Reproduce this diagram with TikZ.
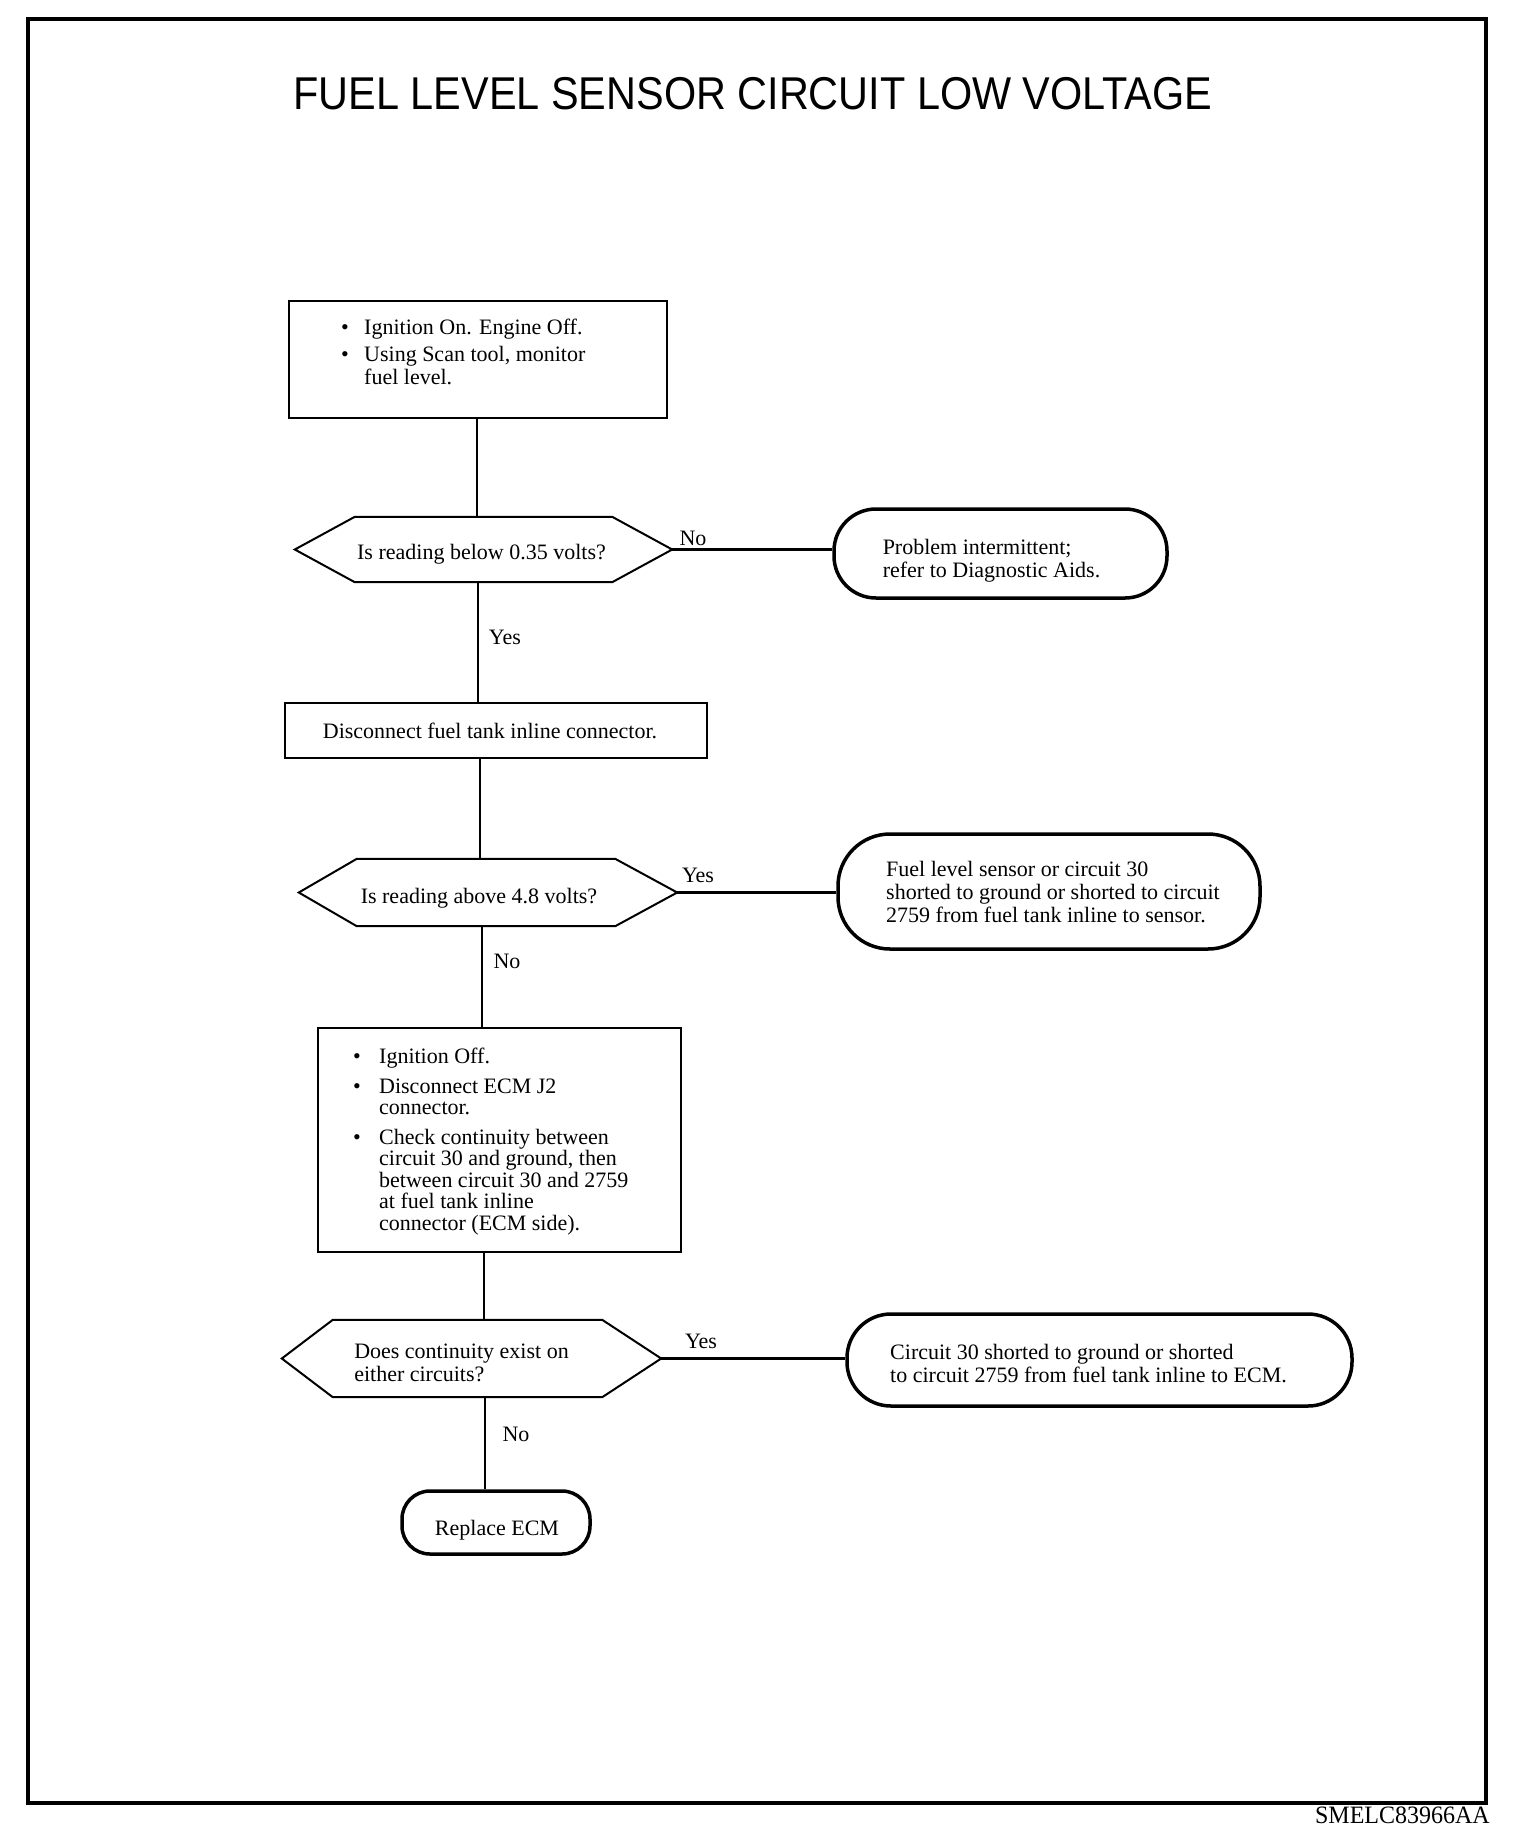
\documentclass[tikz,border=0pt]{standalone}
\usepackage{graphicx}
\usepackage{fontspec}
\setmainfont{Liberation Serif}
\newfontfamily\titlefont{Liberation Sans}
\newcommand\flowtxt{\fontsize{22}{23}\selectfont}
\newcommand\bulA{\makebox[23pt][l]{\textbullet}}
\newcommand\indA{\hspace*{23pt}}
\newcommand\bulB{\makebox[26pt][l]{\textbullet}}
\newcommand\indB{\hspace*{26pt}}
% hexagon outline round an invisible node: #1 name, #2 left depth, #3 right depth
\newcommand\hexout[3]{%
  \draw[hexline] (#1.north west) -- (#1.north east) -- ([xshift=#3pt]#1.east) --
    (#1.south east) -- (#1.south west) -- ([xshift=-#2pt]#1.west) -- cycle;
  \coordinate (#1r) at ([xshift=#3pt]#1.east);}
\begin{document}
\begin{tikzpicture}[x=1pt,y=-1pt,
  boxnode/.style={draw, line width=2pt, inner sep=0pt},
  hexnode/.style={inner sep=0pt},
  hexline/.style={line width=2pt, line join=miter},
  termnode/.style={draw, line width=3.5pt, inner sep=0pt},
  conn/.style={line width=2.2pt},
  lbl/.style={font=\flowtxt, inner sep=0pt, align=left}]
\useasboundingbox (0,0) rectangle (1536,1840);
\fill[white] (0,0) rectangle (1536,1840);
% frame
\draw[line width=4.5pt] (28,19) rectangle (1486,1803);
% title
\node[inner sep=0pt, font=\titlefont\fontsize{46}{50}\selectfont] (title) at (753,94)
  {\scalebox{0.9}[1]{FUEL LEVEL SENSOR CIRCUIT LOW VOLTAGE}};
% box 1
\node[boxnode, minimum width=378pt, minimum height=117pt] (b1) at (478,359.5) {};
\node[lbl, anchor=north west] (b1t) at (341,319)
  {\bulA Ignition On. Engine Off.\\[4pt]
   \bulA Using Scan tool, monitor\\
   \indA fuel level.};
% decision 1
\node[hexnode, minimum width=257pt, minimum height=65pt] (d1) at (483.5,549.5) {};
\hexout{d1}{60}{60}
\node[lbl] (d1t) at (481.5,554.5) {Is reading below 0.35 volts?};
\node[termnode, rounded corners=42pt, minimum width=333pt, minimum height=89pt] (t1) at (1000.5,553.5) {};
\node[lbl] (t1t) at (991.5,560.5) {Problem intermittent;\\refer to Diagnostic Aids.};
% box 2
\node[boxnode, minimum width=422pt, minimum height=55pt] (b2) at (496,730.5) {};
\node[lbl] (b2t) at (490,730.5) {Disconnect fuel tank inline connector.};
% decision 2
\node[hexnode, minimum width=258pt, minimum height=67pt] (d2) at (486,892.5) {};
\hexout{d2}{58}{62}
\node[lbl] (d2t) at (479,898.5) {Is reading above 4.8 volts?};
\node[termnode, rounded corners=52pt, minimum width=422pt, minimum height=115pt] (t2) at (1049,891.5) {};
\node[lbl] (t2t) at (1053,892.5)
  {Fuel level sensor or circuit 30\\shorted to ground or shorted to circuit\\2759 from fuel tank inline to sensor.};
% box 3
\node[boxnode, minimum width=363pt, minimum height=224pt] (b3) at (499.5,1140) {};
\node[lbl, anchor=north west, font=\fontsize{22}{21.5}\selectfont] (b3t) at (353,1048)
  {\bulB Ignition Off.\\[8pt]
   \bulB Disconnect ECM J2\\
   \indB connector.\\[8pt]
   \bulB Check continuity between\\
   \indB circuit 30 and ground, then\\
   \indB between circuit 30 and 2759\\
   \indB at fuel tank inline\\
   \indB connector (ECM side).};
% decision 3
\node[hexnode, minimum width=269pt, minimum height=77pt] (d3) at (467.5,1358.5) {};
\hexout{d3}{51}{59}
\node[lbl] (d3t) at (461.5,1362.5) {Does continuity exist on\\either circuits?};
\node[termnode, rounded corners=44pt, minimum width=505pt, minimum height=92pt] (t3) at (1099.5,1360) {};
\node[lbl] (t3t) at (1088.5,1364)
  {Circuit 30 shorted to ground or shorted\\to circuit 2759 from fuel tank inline to ECM.};
% terminal 4
\node[termnode, rounded corners=28pt, minimum width=188pt, minimum height=63pt] (t4) at (496,1522.5) {};
\node[lbl] (t4t) at (497,1530.5) {Replace ECM};
% spine coordinates
\coordinate (s1) at (477,0);
\coordinate (s2) at (478,0);
\coordinate (s3) at (480,0);
\coordinate (s4) at (482,0);
\coordinate (s5) at (484,0);
\coordinate (s6) at (485,0);
% connectors
\draw[conn] (b1.south -| s1) -- (d1.north -| s1);
\draw[conn] (d1.south -| s2) -- (b2.north -| s2);
\draw[conn] (b2.south -| s3) -- (d2.north -| s3);
\draw[conn] (d2.south -| s4) -- (b3.north -| s4);
\draw[conn] (b3.south -| s5) -- (d3.north -| s5);
\draw[conn] (d3.south -| s6) -- (t4.north -| s6);
\draw[conn] (d1r) -- (d1r -| t1.west);
\draw[conn] (d2r) -- (d2r -| t2.west);
\draw[conn] (d3r) -- (d3r -| t3.west);
% labels
\node[lbl] (l1) at (693,538) {No};
\node[lbl] (l2) at (505,637) {Yes};
\node[lbl] (l3) at (698,875) {Yes};
\node[lbl] (l4) at (507,961) {No};
\node[lbl] (l5) at (701,1341) {Yes};
\node[lbl] (l6) at (516,1434) {No};
% drawing code
\node[inner sep=0pt, anchor=base east, font=\fontsize{25}{25}\selectfont] (code) at (1490,1823)
  {\scalebox{0.96}[1]{SMELC83966AA}};
\end{tikzpicture}
\end{document}
